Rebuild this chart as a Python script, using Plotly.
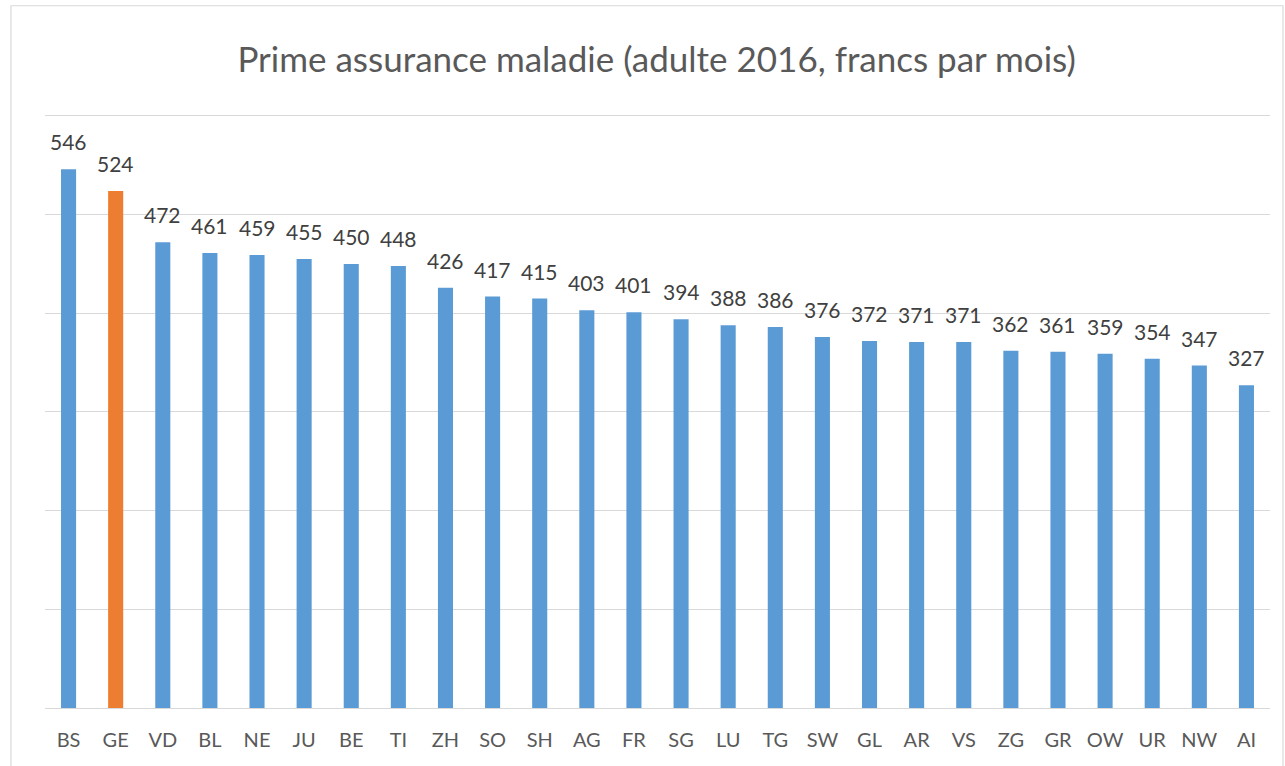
import plotly.graph_objects as go

cantons = ["BS", "GE", "VD", "BL", "NE", "JU", "BE", "TI", "ZH", "SO", "SH", "AG", "FR",
           "SG", "LU", "TG", "SW", "GL", "AR", "VS", "ZG", "GR", "OW", "UR", "NW", "AI"]
primes = [546, 524, 472, 461, 459, 455, 450, 448, 426, 417, 415, 403, 401,
          394, 388, 386, 376, 372, 371, 371, 362, 361, 359, 354, 347, 327]
highlight = "GE"
title_text = "Prime assurance maladie (adulte 2016, francs par mois)"

BLUE = "#5B9BD5"
ORANGE = "#ED7D31"
FONT = "Lato, Open Sans, sans-serif"
colors = [ORANGE if c == highlight else BLUE for c in cantons]

fig = go.Figure(go.Bar(x=cantons, y=primes, marker=dict(color=colors, line=dict(width=0)),
                       hoverinfo="x+y"))

for c, v in zip(cantons, primes):
    fig.add_annotation(x=c, y=v, text=str(v), showarrow=False, yanchor="bottom",
                       yshift=13, font=dict(family=FONT, size=21, color="#404040"))

# chart frame (Excel-style border)
fig.add_shape(type="rect", xref="paper", yref="paper", x0=-0.0278, x1=1.0106, y0=-0.12, y1=1.1783,
              line=dict(color="#D9D9D9", width=1.2), fillcolor="rgba(0,0,0,0)", layer="below")

fig.update_layout(
    width=1285, height=766,
    margin=dict(l=45, r=15, t=112, b=58),
    paper_bgcolor="white", plot_bgcolor="white",
    bargap=0.68,
    showlegend=False,
    title=dict(text=title_text, x=0.511, xanchor="center", y=0.922, yanchor="middle",
               font=dict(family=FONT, size=35, color="#595959")),
    xaxis=dict(showline=True, linecolor="#D9D9D9", linewidth=1.3, ticks="", showgrid=False,
               ticklabelstandoff=14,
               tickfont=dict(family=FONT, size=20, color="#595959")),
    yaxis=dict(range=[0, 604], tickvals=[100, 200, 300, 400, 500, 600], showticklabels=False,
               showgrid=True, gridcolor="#D9D9D9", gridwidth=1.3, zeroline=False, ticks=""),
)

fig.write_html("out.html", config={"displayModeBar": False},
               post_script="document.body.style.margin='0';")
